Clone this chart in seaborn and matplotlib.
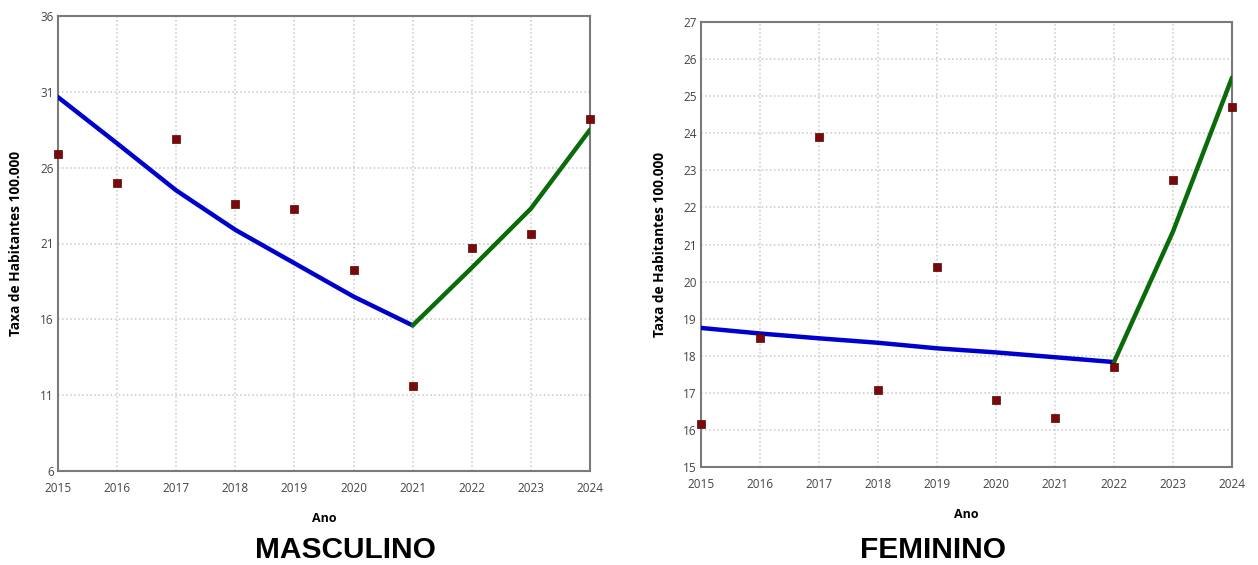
import matplotlib
matplotlib.use('Agg')
import matplotlib.pyplot as plt
import seaborn as sns
import pandas as pd

sns.set_style("white")
plt.rcParams['font.family'] = ['Open Sans', 'DejaVu Sans']

anos = list(range(2015, 2025))

# masculino
masc_taxa = [26.9, 25.0, 27.9, 23.6, 23.3, 19.25, 11.6, 20.7, 21.6, 29.2]
masc_anos1 = list(range(2015, 2022))
masc_tend1 = [30.65, 27.6, 24.5, 21.9, 19.7, 17.5, 15.6]
masc_anos2 = list(range(2021, 2025))
masc_tend2 = [15.6, 19.4, 23.3, 28.5]

# feminino
fem_taxa = [16.15, 18.47, 23.9, 17.07, 20.4, 16.82, 16.32, 17.7, 22.73, 24.7]
fem_anos1 = list(range(2015, 2023))
fem_tend1 = [18.75, 18.6, 18.47, 18.35, 18.2, 18.09, 17.96, 17.83]
fem_anos2 = list(range(2022, 2025))
fem_tend2 = [17.83, 21.35, 25.5]

paineis = [
    dict(titulo="MASCULINO", taxa=masc_taxa, a1=masc_anos1, t1=masc_tend1,
         a2=masc_anos2, t2=masc_tend2, yticks=[6, 11, 16, 21, 26, 31, 36],
         rect=[58/1258, 94/565, 532/1258, 455/565], tx=345/1258),
    dict(titulo="FEMININO", taxa=fem_taxa, a1=fem_anos1, t1=fem_tend1,
         a2=fem_anos2, t2=fem_tend2, yticks=list(range(15, 28)),
         rect=[701/1258, 98/565, 531/1258, 445/565], tx=933/1258),
]

fig = plt.figure(figsize=(12.58, 5.65), dpi=100)

for p in paineis:
    ax = fig.add_axes(p['rect'])
    df = pd.DataFrame({'ano': anos, 'taxa': p['taxa']})
    d1 = pd.DataFrame({'ano': p['a1'], 'taxa': p['t1']})
    d2 = pd.DataFrame({'ano': p['a2'], 'taxa': p['t2']})
    sns.lineplot(data=d1, x='ano', y='taxa', color='#0000cc', lw=3.2, ax=ax, zorder=3)
    sns.lineplot(data=d2, x='ano', y='taxa', color='#0a6b0a', lw=3.2, ax=ax, zorder=3)
    sns.scatterplot(data=df, x='ano', y='taxa', marker='s', s=30, color='#7a0a0a',
                    edgecolor='#5a0000', linewidth=0.5, ax=ax, zorder=4, clip_on=False)
    ax.set_xlim(2015, 2024)
    ax.set_ylim(p['yticks'][0], p['yticks'][-1])
    ax.set_xticks(anos)
    ax.set_yticks(p['yticks'])
    ax.grid(True, color='#c8c8c8', linestyle=':', linewidth=1.1)
    for s in ax.spines.values():
        s.set_color('#7a7a7a')
        s.set_linewidth(1.5)
    ax.tick_params(length=0, labelsize=8.5, labelcolor='#444444')
    ax.tick_params(axis='x', pad=8)
    ax.tick_params(axis='y', pad=3)
    ax.set_xlabel('Ano', fontsize=9, fontweight='bold', color='black', labelpad=12)
    ax.set_ylabel('Taxa de Habitantes 100.000', fontsize=9.8, fontweight='bold',
                  color='black', labelpad=12)
    fig.text(p['tx'], 1/565, p['titulo'], ha='center', va='bottom',
             fontsize=21.5, fontweight='bold', color='black', family='Liberation Sans')

fig.savefig('out.png', dpi=100, facecolor='white')
